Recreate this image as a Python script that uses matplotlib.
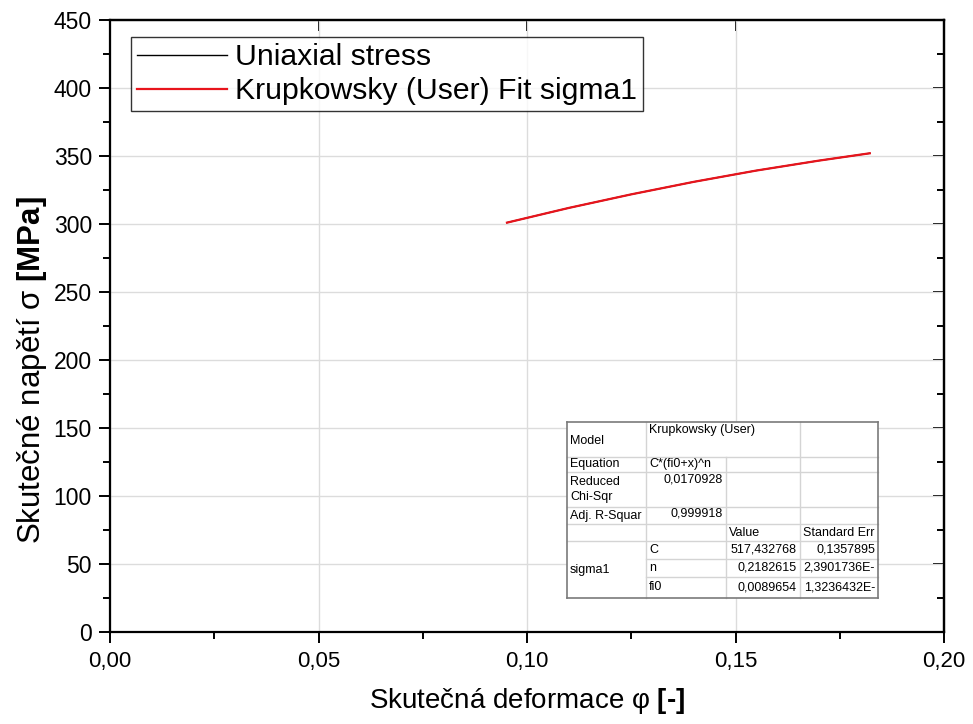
import numpy as np
import matplotlib
matplotlib.use("Agg")
import matplotlib.pyplot as plt
from matplotlib.ticker import MultipleLocator, FuncFormatter
from matplotlib.lines import Line2D
from matplotlib.patches import Rectangle

plt.rcParams['font.family'] = ['Liberation Sans', 'DejaVu Sans']
plt.rcParams['mathtext.fontset'] = 'custom'
plt.rcParams['mathtext.rm'] = 'Liberation Sans'
plt.rcParams['mathtext.bf'] = 'Liberation Sans:bold'

W, H = 973, 724

# measured true stress vs true strain (the fit lies on top of it)
UNIAXIAL_STRAIN = [0.0952, 0.110, 0.125, 0.140, 0.155, 0.170, 0.1822]
UNIAXIAL_STRESS = [301.0, 311.8, 321.8, 331.0, 339.3, 346.6, 352.0]

# Krupkowsky fit evaluated at the same strains
FIT_STRAIN = [0.0952, 0.110, 0.125, 0.140, 0.155, 0.170, 0.1822]
FIT_STRESS = [301.0, 311.8, 321.8, 331.0, 339.3, 346.6, 352.0]

# fit report
MODEL = "Krupkowsky (User)"
EQUATION = "C*(fi0+x)^n"
CHI_SQR = "0,0170928"
ADJ_R2 = "0,999918"
PARAM_GROUP = "sigma1"
PARAMS = ["C", "n", "fi0"]
VALUES = ["517,432768", "0,2182615", "0,0089654"]
ERRORS = ["0,1357895", "2,3901736E-", "1,3236432E-"]


def fx(px):
    return px / W


def fy(py):
    return 1 - py / H


def main():
    fig = plt.figure(figsize=(W / 100, H / 100), dpi=100)
    ax = fig.add_axes([fx(110), fy(632), fx(944) - fx(110), fy(20) - fy(632)])

    ax.plot(UNIAXIAL_STRAIN, UNIAXIAL_STRESS, color='black', lw=1.0,
            label='Uniaxial stress')
    ax.plot(FIT_STRAIN, FIT_STRESS, color='#e8141c', lw=1.6,
            label='Krupkowsky (User) Fit sigma1')

    ax.set_xlim(0, 0.20)
    ax.set_ylim(0, 450)
    ax.xaxis.set_major_locator(MultipleLocator(0.05))
    ax.xaxis.set_minor_locator(MultipleLocator(0.025))
    ax.yaxis.set_major_locator(MultipleLocator(50))
    ax.yaxis.set_minor_locator(MultipleLocator(25))
    ax.xaxis.set_major_formatter(FuncFormatter(lambda v, p: f"{v:.2f}".replace('.', ',')))
    ax.yaxis.set_major_formatter(FuncFormatter(lambda v, p: f"{v:.0f}"))

    ax.grid(True, which='major', color='#dcdcdc', lw=1.0)
    ax.set_axisbelow(True)
    for s in ax.spines.values():
        s.set_linewidth(1.6)

    ax.tick_params(which='both', direction='out', top=False, right=False, width=1.4)
    ax.tick_params(which='major', length=8)
    ax.tick_params(which='minor', length=5)
    ax.tick_params(axis='x', pad=6, labelsize=16)
    ax.tick_params(axis='y', pad=5, labelsize=16.5)

    # inward ticks on the opposite sides
    top = ax.secondary_xaxis('top')
    top.xaxis.set_major_locator(MultipleLocator(0.05))
    top.xaxis.set_minor_locator(MultipleLocator(0.025))
    top.tick_params(which='major', direction='in', length=8, width=1.4, labeltop=False)
    top.tick_params(which='minor', length=0)
    top.spines['top'].set_linewidth(1.6)
    right = ax.secondary_yaxis('right')
    right.yaxis.set_major_locator(MultipleLocator(50))
    right.yaxis.set_minor_locator(MultipleLocator(25))
    right.tick_params(which='both', direction='in', width=1.4, labelright=False)
    right.tick_params(which='major', length=8)
    right.tick_params(which='minor', length=5)
    right.spines['right'].set_linewidth(1.6)

    ax.set_xlabel("Skutečná deformace φ $\\mathbf{[\u2010]}$", fontsize=20, labelpad=10)
    ax.set_ylabel("Skutečné napětí σ $\\mathbf{[MPa]}$", fontsize=22.5)
    ax.yaxis.set_label_coords(-0.073, 0.428)

    leg = ax.legend(loc='upper left', bbox_to_anchor=(0.0252, 0.972), borderaxespad=0,
                    fontsize=21.7, frameon=True, fancybox=False, handlelength=3.0,
                    labelspacing=0.2, borderpad=0.2, handletextpad=0.25)
    leg.get_frame().set_edgecolor('black')
    leg.get_frame().set_linewidth(1.0)

    draw_table(fig)

    fig.savefig("out.png", dpi=100)


def draw_table(fig):
    cols = [567, 646, 726, 800, 878]
    rows = [422, 457, 472, 507, 524, 541, 559, 577, 598]
    z = 10
    fs = 9.0
    inner = '#d4d4d4'

    fig.add_artist(Rectangle((fx(cols[0]), fy(rows[-1])), fx(cols[-1]) - fx(cols[0]),
                             fy(rows[0]) - fy(rows[-1]), transform=fig.transFigure,
                             facecolor='white', edgecolor='none', zorder=z))

    def hline(y, x0, x1, color=inner, lw=1.0):
        fig.add_artist(Line2D([fx(x0), fx(x1)], [fy(y), fy(y)], color=color, lw=lw,
                              transform=fig.transFigure, zorder=z + 1))

    def vline(x, y0, y1, color=inner, lw=1.0):
        fig.add_artist(Line2D([fx(x), fx(x)], [fy(y0), fy(y1)], color=color, lw=lw,
                              transform=fig.transFigure, zorder=z + 1))

    for y in rows[1:6]:
        hline(y, cols[0], cols[-1])
    for y in rows[6:8]:
        hline(y, cols[1], cols[-1])
    vline(cols[1], rows[0], rows[-1])
    vline(cols[2], rows[1], rows[-1])
    vline(cols[3], rows[0], rows[-1])

    # outer border
    dark = '#7a7a7a'
    hline(rows[0], cols[0], cols[-1], dark, 1.2)
    hline(rows[-1], cols[0], cols[-1], dark, 1.2)
    vline(cols[0], rows[0], rows[-1], dark, 1.2)
    vline(cols[-1], rows[0], rows[-1], dark, 1.2)

    def txt(x, y, s, ha='left', va='center'):
        fig.text(fx(x), fy(y), s, ha=ha, va=va, fontsize=fs, zorder=z + 2,
                 linespacing=1.25)

    pad = 3
    mid = lambda i: (rows[i] + rows[i + 1]) / 2
    txt(cols[0] + pad, mid(0) + 1, "Model")
    txt(cols[1] + pad, rows[0] + 2, MODEL, va='top')
    txt(cols[0] + pad, mid(1), "Equation")
    txt(cols[1] + pad, mid(1) - 1, EQUATION)
    txt(cols[0] + pad, mid(2), "Reduced\nChi-Sqr")
    txt(cols[2] - pad, rows[2] + 2, CHI_SQR, ha='right', va='top')
    txt(cols[0] + pad, mid(3), "Adj. R-Squar")
    txt(cols[2] - pad, rows[3] + 1, ADJ_R2, ha='right', va='top')
    txt(cols[2] + pad, mid(4), "Value")
    txt(cols[3] + pad, mid(4), "Standard Err")
    txt(cols[0] + pad, (rows[5] + rows[8]) / 2, PARAM_GROUP)
    for i, (p, v, e) in enumerate(zip(PARAMS, VALUES, ERRORS)):
        y = mid(5 + i)
        txt(cols[1] + pad, y, p)
        txt(cols[3] - pad, y, v, ha='right')
        txt(cols[4] - pad, y, e, ha='right')


if __name__ == "__main__":
    main()
